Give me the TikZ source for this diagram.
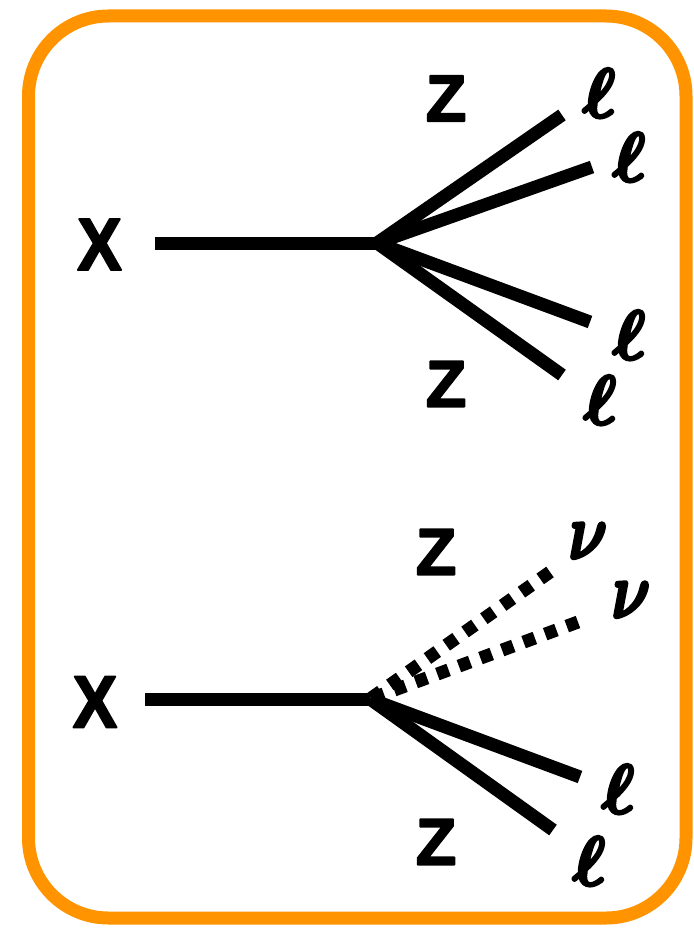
\documentclass[tikz,border=0pt]{standalone}
\usepackage{fontspec}
\setmainfont{Liberation Sans}[BoldFont={Liberation Sans Bold}]
\definecolor{frameorange}{RGB}{255,148,0}
\newcommand\heavyglyph[2]{\special{pdf:literal direct 2 Tr #1 w 1 j}#2\special{pdf:literal direct 0 Tr}}
\begin{document}
\begin{tikzpicture}[x=1pt,y=-1pt,
  zlbl/.style={inner sep=0pt, font=\fontsize{66}{66}\selectfont\bfseries},
  xlbl/.style={inner sep=0pt, font=\fontsize{74}{74}\selectfont\bfseries, xscale=0.9},
  elbl/.style={inner sep=0pt, font=\normalsize\boldmath, scale=7.0},
  nlbl/.style={inner sep=0pt, font=\normalsize\boldmath, xscale=6.0, yscale=7.9},
  prop/.style={line width=13pt, line cap=butt},
  invis/.style={line width=13pt, line cap=butt, dash pattern=on 12pt off 11pt}
]
\useasboundingbox (0,0) rectangle (693,931);
\draw[frameorange, line width=13pt, rounded corners=80pt] (28.5,16) rectangle (686,918);

% ---- top diagram ----
\node[xlbl] (xa) at (99.5,244.5) {\heavyglyph{2}{X}};
\coordinate (sa) at (155,243);
\coordinate (va) at (377,243);
\coordinate (a1) at (562,115);
\coordinate (a2) at (592,167);
\coordinate (a3) at (590,322);
\coordinate (a4) at (562,375);
\draw[prop] (sa) -- (va);
\draw[prop] (va) -- (a1);
\draw[prop] (va) -- (a2);
\draw[prop] (va) -- (a3);
\draw[prop] (va) -- (a4);
\node[zlbl] (za1) at (446,98.5) {\heavyglyph{2}{Z}};
\node[zlbl] (za2) at (446,384) {\heavyglyph{2}{Z}};
\node[elbl] (la1) at (599,93) {\heavyglyph{0.4}{$\ell$}};
\node[elbl] (la2) at (629,157) {\heavyglyph{0.4}{$\ell$}};
\node[elbl] (la3) at (629,335) {\heavyglyph{0.4}{$\ell$}};
\node[elbl] (la4) at (600,400) {\heavyglyph{0.4}{$\ell$}};

% ---- bottom diagram ----
\node[xlbl] (xb) at (95,702) {\heavyglyph{2}{X}};
\coordinate (sb) at (145,699);
\coordinate (vb) at (370,699);
\coordinate (b1) at (550,572);
\coordinate (b2) at (578,622);
\coordinate (b3) at (580,777);
\coordinate (b4) at (553,830);
\draw[prop] (sb) -- (vb);
\draw[invis] (b1) -- (vb);
\draw[invis] (b2) -- (vb);
\draw[prop] (vb) -- (b3);
\draw[prop] (vb) -- (b4);
\node[zlbl] (zb1) at (436,552) {\heavyglyph{2}{Z}};
\node[zlbl] (zb2) at (436,842) {\heavyglyph{2}{Z}};
\node[nlbl] (nb1) at (588,541) {\heavyglyph{0.4}{$\nu$}};
\node[nlbl] (nb2) at (631,600) {\heavyglyph{0.4}{$\nu$}};
\node[elbl] (lb3) at (618,789) {\heavyglyph{0.4}{$\ell$}};
\node[elbl] (lb4) at (589,861) {\heavyglyph{0.4}{$\ell$}};
\end{tikzpicture}
\end{document}
